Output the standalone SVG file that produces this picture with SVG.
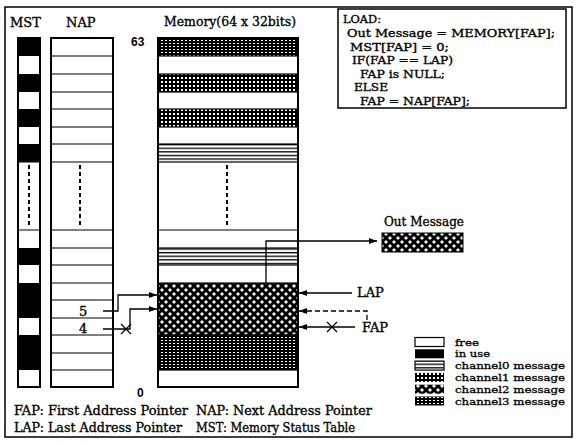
<svg xmlns="http://www.w3.org/2000/svg" width="577" height="443" viewBox="0 0 577 443">
<style>
text{font-family:"DejaVu Serif","Liberation Serif",serif;fill:#000;font-size:13px;stroke:#000;stroke-width:0.35}
.num{font-family:"Liberation Sans","DejaVu Sans",sans-serif;font-weight:bold;font-size:12px;stroke:none}
.box{fill:none;stroke:#000;stroke-width:2}
.row{stroke:#000;stroke-width:1.2}
.ln{fill:none;stroke:#000;stroke-width:1.3}
.dash{fill:none;stroke:#000;stroke-width:2;stroke-dasharray:4 3}
.leg{font-size:12px}
.lg{font-size:9.8px;stroke-width:0.3}
.cd{font-size:11.4px}
</style>
<defs>
<pattern id="ch0" width="8" height="3.6" patternUnits="userSpaceOnUse"><rect width="8" height="3.6" fill="#fff"/><rect y="0" width="8" height="1.3" fill="#000"/></pattern>
<pattern id="ch1" width="4" height="4" patternUnits="userSpaceOnUse"><rect width="4" height="4" fill="#000"/><rect x="1" y="1" width="2" height="2" fill="#fff"/></pattern>
<pattern id="ch2" width="8" height="8" patternUnits="userSpaceOnUse"><rect width="8" height="8" fill="#000"/><path d="M2 0.3v3.4M0.3 2h3.4M6 4.3v3.4M4.3 6h3.4" stroke="#fff" stroke-width="1.3"/></pattern>
<pattern id="ch3" width="4" height="3" patternUnits="userSpaceOnUse"><rect width="4" height="3" fill="#000"/><rect x="1" y="1" width="2" height="1" fill="#fff"/></pattern>
<marker id="ah" viewBox="0 0 8 6" refX="8" refY="3" markerWidth="8" markerHeight="6" orient="auto" markerUnits="userSpaceOnUse"><path d="M0,0 L8,3 L0,6 z" fill="#000"/></marker>
</defs>
<rect x="0" y="0" width="577" height="443" fill="#fff"/>
<rect x="5" y="7" width="567" height="430" fill="none" stroke="#000" stroke-width="1.5"/>

<g id="mst">
<text x="10" y="27">MST</text>
<rect x="18" y="38" width="22" height="349" fill="#fff"/>
<g fill="#000">
<rect x="18" y="38" width="22" height="18"/>
<rect x="18" y="74" width="22" height="18"/>
<rect x="18" y="109" width="22" height="18"/>
<rect x="18" y="144" width="22" height="18"/>
<rect x="18" y="248" width="22" height="17"/>
<rect x="18" y="283" width="22" height="35"/>
<rect x="18" y="335" width="22" height="35"/>
</g>
<path class="row" d="M18 162H40M18 230H40"/>
<path class="dash" d="M29 165V228"/>
<rect class="box" x="18" y="38" width="22" height="349"/>
</g>

<g id="nap">
<text x="66" y="27">NAP</text>
<rect x="51" y="38" width="62" height="349" fill="#fff"/>
<path class="row" d="M51 56H113M51 74H113M51 92H113M51 109H113M51 127H113M51 144H113M51 162H113M51 230H113M51 248H113M51 265H113M51 283H113M51 300H113M51 318H113M51 335H113M51 353H113M51 370H113"/>
<path class="dash" d="M80 165V228"/>
<rect class="box" x="51" y="38" width="62" height="349"/>
<text x="79" y="316">5</text>
<text x="79" y="333">4</text>
</g>

<g id="memory">
<text x="164" y="26" textLength="132" lengthAdjust="spacingAndGlyphs">Memory(64 x 32bits)</text>
<text class="num" x="131" y="46">63</text>
<text class="num" x="137" y="397">0</text>
<rect x="158" y="38" width="140" height="349" fill="#fff"/>
<rect class="row" x="158" y="38" width="140" height="18" fill="url(#ch3)"/>
<rect class="row" x="158" y="74" width="140" height="18" fill="url(#ch1)"/>
<rect class="row" x="158" y="109" width="140" height="18" fill="url(#ch1)"/>
<rect class="row" x="158" y="144" width="140" height="18" fill="url(#ch0)"/>
<rect class="row" x="158" y="248" width="140" height="17" fill="url(#ch0)"/>
<rect class="row" x="158" y="283" width="140" height="52" fill="url(#ch2)"/>
<rect class="row" x="158" y="335" width="140" height="35" fill="url(#ch3)"/>
<path class="row" d="M158 230H298"/>
<path class="dash" d="M227 165V228"/>
<rect class="box" x="158" y="38" width="140" height="349"/>
</g>

<g id="code">
<rect x="338" y="9" width="228" height="99" fill="#fff" stroke="#000" stroke-width="1.5"/>
<text class="cd" x="343" y="23" textLength="38" lengthAdjust="spacingAndGlyphs">LOAD:</text>
<text class="cd" x="347" y="37" textLength="208" lengthAdjust="spacingAndGlyphs">Out Message = MEMORY[FAP];</text>
<text class="cd" x="350" y="50.5" textLength="99" lengthAdjust="spacingAndGlyphs">MST[FAP] = 0;</text>
<text class="cd" x="352" y="64" textLength="101" lengthAdjust="spacingAndGlyphs">IF(FAP == LAP)</text>
<text class="cd" x="360" y="77.5" textLength="85" lengthAdjust="spacingAndGlyphs">FAP is NULL;</text>
<text class="cd" x="354" y="91" textLength="34" lengthAdjust="spacingAndGlyphs">ELSE</text>
<text class="cd" x="360" y="104.5" textLength="110" lengthAdjust="spacingAndGlyphs">FAP = NAP[FAP];</text>
</g>

<g id="outmsg">
<text class="leg" x="384" y="226" textLength="80" lengthAdjust="spacingAndGlyphs">Out Message</text>
<rect x="382" y="233" width="81" height="19" fill="url(#ch2)" stroke="#000" stroke-width="1"/>
</g>

<g id="pointers">
<text x="357" y="297">LAP</text>
<text x="362" y="332">FAP</text>
</g>

<g id="connectors">
<path class="ln" d="M266 283V241H377" marker-end="url(#ah)"/>
<path class="ln" d="M103 311H118V295H157" marker-end="url(#ah)"/>
<path class="ln" d="M103 329H130V309H157" marker-end="url(#ah)"/>
<path class="ln" d="M121 324L131 334M121 334L131 324"/>
<path class="ln" d="M352 293H299" marker-end="url(#ah)"/>
<path class="ln" d="M367 320V311H299" stroke-dasharray="5 3" marker-end="url(#ah)"/>
<path class="ln" d="M355 327H299" marker-end="url(#ah)"/>
<path class="ln" d="M327 322L337 332M327 332L337 322"/>
</g>

<g id="legend">
<rect x="415" y="337.5" width="29" height="9" fill="#fff" stroke="#000" stroke-width="1.2"/>
<rect x="415" y="349.3" width="29" height="9" fill="#000"/>
<rect x="415" y="361.1" width="29" height="9" fill="url(#ch0)" stroke="#000" stroke-width="1.2"/>
<rect x="415" y="372.9" width="29" height="9" fill="url(#ch1)"/>
<rect x="415" y="384.7" width="29" height="9" fill="url(#ch2)"/>
<rect x="415" y="396.5" width="29" height="9" fill="url(#ch3)"/>
<text class="lg" x="455" y="345.5" textLength="24" lengthAdjust="spacingAndGlyphs">free</text>
<text class="lg" x="455" y="357.3" textLength="35" lengthAdjust="spacingAndGlyphs">in use</text>
<text class="lg" x="455" y="369.1" textLength="110" lengthAdjust="spacingAndGlyphs">channel0 message</text>
<text class="lg" x="455" y="380.9" textLength="110" lengthAdjust="spacingAndGlyphs">channel1 message</text>
<text class="lg" x="455" y="392.7" textLength="110" lengthAdjust="spacingAndGlyphs">channel2 message</text>
<text class="lg" x="455" y="404.5" textLength="110" lengthAdjust="spacingAndGlyphs">channel3 message</text>
</g>

<g id="notes">
<text x="14" y="415" textLength="174" lengthAdjust="spacingAndGlyphs">FAP: First Address Pointer</text>
<text x="14" y="432" textLength="168" lengthAdjust="spacingAndGlyphs">LAP: Last Address Pointer</text>
<text x="196" y="415" textLength="176" lengthAdjust="spacingAndGlyphs">NAP: Next Address Pointer</text>
<text x="196" y="432" textLength="159" lengthAdjust="spacingAndGlyphs">MST: Memory Status Table</text>
</g>
</svg>
